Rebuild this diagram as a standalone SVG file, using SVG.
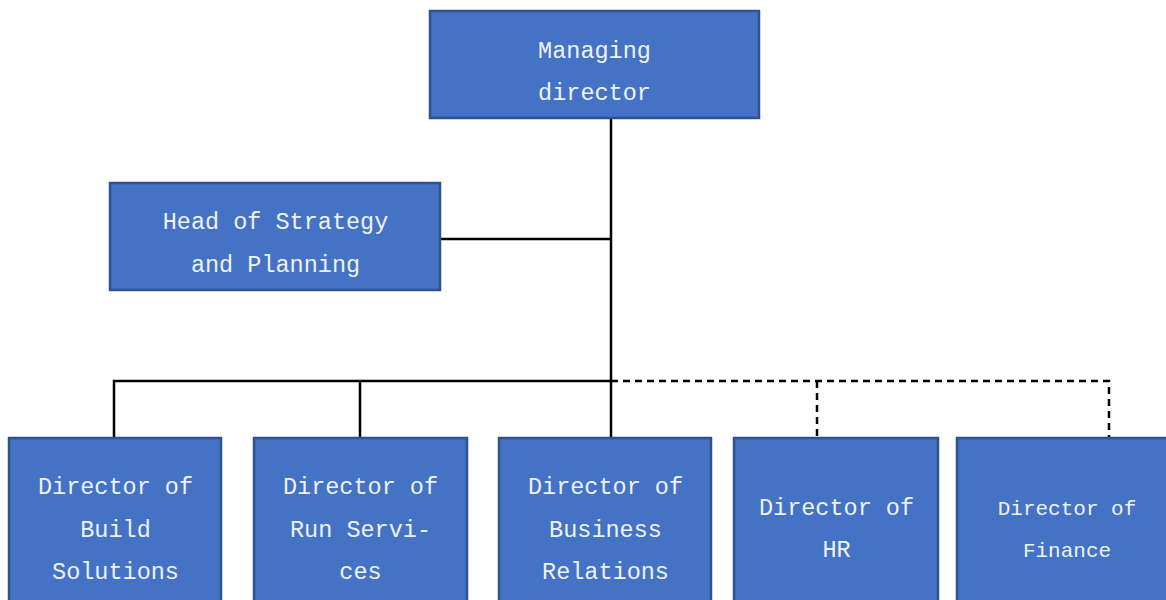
<svg xmlns="http://www.w3.org/2000/svg" width="1166" height="600" viewBox="0 0 1166 600">
<style>
.box{fill:#4472C4;stroke:#2F528F;stroke-width:2.5}
.t{font-family:"Liberation Mono","Courier New",monospace;font-size:23.5px;fill:#EEF2FA;text-anchor:middle}
.ts{font-size:21px}
.ln{stroke:#000;stroke-width:2.5;fill:none}
.dash{stroke-dasharray:7 5}
</style>
<rect width="1166" height="600" fill="#fff"/>
<g id="connectors">
<path class="ln" d="M611 118 V438"/>
<path class="ln" d="M440 239 H611"/>
<path class="ln" d="M114 438 V381 H611"/>
<path class="ln" d="M360 381 V438"/>
<path class="ln dash" d="M611 381 H1109 V438"/>
<path class="ln dash" d="M817 381 V438"/>
</g>
<g id="managing-director">
<rect class="box" x="430" y="11" width="329" height="107"/>
<text class="t" x="594.5" y="58">Managing</text>
<text class="t" x="594.5" y="100">director</text>
</g>
<g id="head-strategy">
<rect class="box" x="110" y="183" width="330" height="107"/>
<text class="t" x="275.5" y="229">Head of Strategy</text>
<text class="t" x="275.5" y="272">and Planning</text>
</g>
<g id="dir-build">
<rect class="box" x="9" y="438" width="212" height="180"/>
<text class="t" x="115.5" y="494">Director of</text>
<text class="t" x="115.5" y="537">Build</text>
<text class="t" x="115.5" y="579">Solutions</text>
</g>
<g id="dir-run">
<rect class="box" x="254" y="438" width="213" height="180"/>
<text class="t" x="360.5" y="494">Director of</text>
<text class="t" x="360.5" y="537">Run Servi-</text>
<text class="t" x="360.5" y="579">ces</text>
</g>
<g id="dir-business">
<rect class="box" x="499" y="438" width="212" height="180"/>
<text class="t" x="605.5" y="494">Director of</text>
<text class="t" x="605.5" y="537">Business</text>
<text class="t" x="605.5" y="579">Relations</text>
</g>
<g id="dir-hr">
<rect class="box" x="734" y="438" width="204" height="180"/>
<text class="t" x="836.5" y="515">Director of</text>
<text class="t" x="836.5" y="557">HR</text>
</g>
<g id="dir-finance">
<rect class="box" x="957" y="438" width="220" height="180"/>
<text class="t ts" x="1067" y="515">Director of</text>
<text class="t ts" x="1067" y="557">Finance</text>
</g>
</svg>
